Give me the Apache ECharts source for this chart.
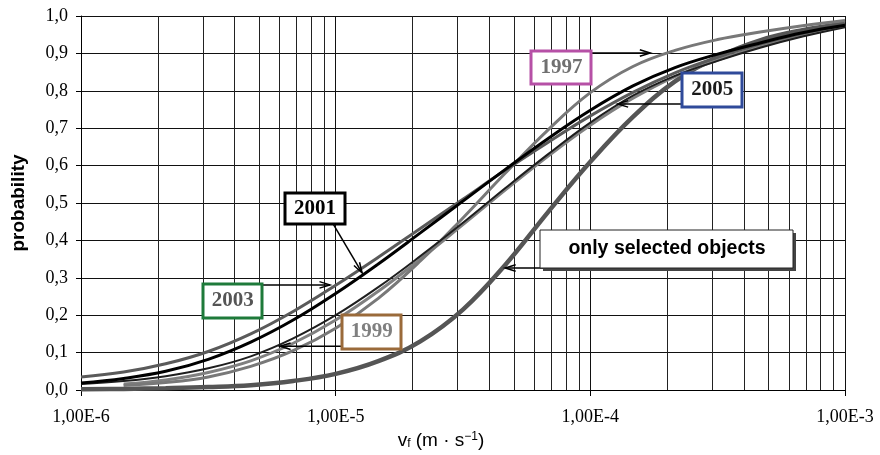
<!DOCTYPE html>
<html>
<head>
<meta charset="utf-8">
<script src="https://cdn.jsdelivr.net/npm/echarts@6/dist/echarts.min.js"></script>
<style>
  html, body { margin: 0; padding: 0; background: #fff; }
  #chart { width: 880px; height: 455px; }
</style>
</head>
<body>
<div id="chart"></div>
<script>
// velocity values (m/s) the curves are sampled at, six per decade
const vf = [1e-6, 1.47e-6, 2.15e-6, 3.16e-6, 4.64e-6, 6.81e-6,
            1e-5, 1.47e-5, 2.15e-5, 3.16e-5, 4.64e-5, 6.81e-5,
            1e-4, 1.47e-4, 2.15e-4, 3.16e-4, 4.64e-4, 6.81e-4, 1e-3];

// cumulative probability
const p1997 = [null, 0.012, 0.02, 0.035, 0.063, 0.105, 0.165, 0.245, 0.345, 0.46, 0.58, 0.695, 0.795, 0.865, 0.908, 0.937, 0.957, 0.974, 0.988];
const p1999 = [null, 0.016, 0.027, 0.047, 0.078, 0.125, 0.187, 0.264, 0.35, 0.442, 0.535, 0.625, 0.708, 0.78, 0.838, 0.882, 0.918, 0.948, 0.975];
const p2001 = [0.019, 0.031, 0.05, 0.082, 0.128, 0.187, 0.258, 0.337, 0.42, 0.505, 0.59, 0.672, 0.748, 0.813, 0.862, 0.898, 0.928, 0.955, 0.975];
const p2003 = [0.035, 0.048, 0.07, 0.103, 0.15, 0.21, 0.28, 0.355, 0.432, 0.51, 0.588, 0.662, 0.733, 0.796, 0.848, 0.89, 0.925, 0.953, 0.975];
const p2005 = [0.016, 0.024, 0.037, 0.058, 0.09, 0.138, 0.20, 0.275, 0.358, 0.447, 0.54, 0.63, 0.715, 0.787, 0.84, 0.88, 0.915, 0.945, 0.97];
const pSelected = [0.002, 0.003, 0.005, 0.008, 0.013, 0.024, 0.043, 0.077, 0.13, 0.215, 0.335, 0.475, 0.61, 0.73, 0.825, 0.89, 0.935, 0.962, 0.98];

// decades on the x axis and the 2..9 subdivisions
const decades = [1e-6, 1e-5, 1e-4];
const subSteps = [2, 3, 4, 5, 6, 7, 8, 9];
const minorLines = [];
decades.forEach(d => subSteps.forEach(k => minorLines.push(k * d)));

// callout boxes: centre and arrow in data coordinates
const notes = [
  { text: '1997', c: [7.7e-5, 0.862], w: 60, h: 33, border: '#b650a6', color: '#707070', from: [1.0e-4, 0.901], to: [1.72e-4, 0.901] },
  { text: '2005', c: [3.01e-4, 0.802], w: 60, h: 34, border: '#2f4a9a', color: '#1a1a1a', from: [2.3e-4, 0.765], to: [1.28e-4, 0.765] },
  { text: '2001', c: [8.3e-6, 0.485], w: 60, h: 31, border: '#000', color: '#000', from: [9.77e-6, 0.444], to: [1.27e-5, 0.313] },
  { text: '2003', c: [3.94e-6, 0.238], w: 59, h: 34, border: '#1e7a3a', color: '#555', from: [5.14e-6, 0.281], to: [9.5e-6, 0.281] },
  { text: '1999', c: [1.385e-5, 0.155], w: 59, h: 34, border: '#9a6a3a', color: '#808080', from: [1.06e-5, 0.117], to: [6.05e-6, 0.117] },
  { text: 'only selected objects', c: [2.0e-4, 0.377], w: 253, h: 38, border: '#222', color: '#000', sans: true, from: [8.2e-5, 0.326], to: [4.63e-5, 0.326] }
];

const pairs = arr => vf.map((v, i) => [v, arr[i]]);

function curve(name, arr, color, width) {
  return {
    name: name, type: 'line', smooth: 0.4, showSymbol: false, z: 3,
    data: pairs(arr),
    lineStyle: { color: color, width: width }
  };
}

const chart = echarts.init(document.getElementById('chart'));

const option = {
  animation: false,
  grid: { left: 81, right: 35, top: 16, bottom: 65 },
  xAxis: {
    type: 'log',
    logBase: 10,
    min: 1e-6,
    max: 1e-3,
    name: '{t|v}{sub|f}{t| (m · s}{sup|−1}{t|)}',
    nameLocation: 'middle',
    nameGap: 37,
    nameTextStyle: {
      padding: [0, 44, 0, 0],
      rich: {
        t: { fontFamily: 'Liberation Sans', fontSize: 19, color: '#000' },
        sub: { fontFamily: 'Liberation Sans', fontSize: 12, color: '#000', verticalAlign: 'bottom' },
        sup: { fontFamily: 'Liberation Sans', fontSize: 12, color: '#000', verticalAlign: 'top' }
      }
    },
    axisLine: { lineStyle: { color: '#000', width: 1 } },
    axisTick: { show: true, length: 6, lineStyle: { color: '#000' } },
    axisLabel: {
      fontFamily: 'Liberation Serif',
      fontSize: 18,
      color: '#000',
      margin: 18,
      formatter: v => '1,00E' + Math.round(Math.log10(v))
    },
    splitLine: { show: true, lineStyle: { color: '#111', width: 1 } }
  },
  yAxis: {
    type: 'value',
    min: 0,
    max: 1,
    interval: 0.1,
    name: 'probability',
    nameLocation: 'middle',
    nameRotate: 90,
    nameGap: 53,
    nameTextStyle: { fontFamily: 'Liberation Sans', fontWeight: 'bold', fontSize: 19, color: '#000' },
    axisLine: { show: true, lineStyle: { color: '#000', width: 1 } },
    axisTick: { show: true, length: 5, lineStyle: { color: '#000' } },
    axisLabel: {
      fontFamily: 'Liberation Serif',
      fontSize: 18,
      color: '#000',
      margin: 13,
      formatter: v => v.toFixed(1).replace('.', ',')
    },
    splitLine: { show: true, lineStyle: { color: '#111', width: 1 } }
  },
  series: [
    {
      // minor log grid lines at 2..9 of each decade
      name: 'grid', type: 'custom', silent: true, z: 1,
      data: minorLines.map(v => [v, 0]),
      encode: { x: 0, y: 1 },
      renderItem: (params, api) => {
        const top = api.coord([api.value(0), 1]);
        const bot = api.coord([api.value(0), 0]);
        const x = Math.round(top[0]) + 0.5;
        return {
          type: 'line',
          shape: { x1: x, y1: top[1], x2: x, y2: bot[1] },
          style: { stroke: '#222', lineWidth: 1 }
        };
      }
    },
    curve('selected', pSelected, '#555', 4.5),
    curve('1999', p1999, '#808080', 3),
    curve('1997', p1997, '#787878', 3),
    curve('2005', p2005, '#1e1e1e', 2),
    curve('2003', p2003, '#5a5a5a', 3),
    curve('2001', p2001, '#000', 3)
  ]
};

chart.setOption(option);

function drawNotes() {
  const els = [];
  notes.forEach(n => {
    const c = chart.convertToPixel({ gridIndex: 0 }, n.c);
    const a = chart.convertToPixel({ gridIndex: 0 }, n.from);
    const b = chart.convertToPixel({ gridIndex: 0 }, n.to);
    const x = Math.round(c[0] - n.w / 2), y = Math.round(c[1] - n.h / 2);
    // arrow shaft and open head
    const ang = Math.atan2(b[1] - a[1], b[0] - a[0]);
    const hl = 11, hw = 0.3;
    els.push({
      type: 'line', z: 10,
      shape: { x1: a[0], y1: a[1], x2: b[0], y2: b[1] },
      style: { stroke: '#000', lineWidth: 1.5 }
    });
    els.push({
      type: 'polyline', z: 10,
      shape: { points: [
        [b[0] - hl * Math.cos(ang - hw), b[1] - hl * Math.sin(ang - hw)],
        [b[0], b[1]],
        [b[0] - hl * Math.cos(ang + hw), b[1] - hl * Math.sin(ang + hw)]
      ] },
      style: { stroke: '#000', fill: null, lineWidth: 1.5 }
    });
    if (n.sans) {
      els.push({ type: 'rect', z: 11, shape: { x: x + 3, y: y + 3, width: n.w, height: n.h }, style: { fill: '#444' } });
    }
    els.push({
      type: 'rect', z: 12,
      shape: { x: x, y: y, width: n.w, height: n.h },
      style: { fill: '#fff', stroke: n.border, lineWidth: n.sans ? 1 : 3 }
    });
    els.push({
      type: 'text', z: 13,
      x: c[0], y: c[1],
      style: {
        text: n.text,
        fill: n.color,
        fontFamily: n.sans ? 'Liberation Sans' : 'Liberation Serif',
        fontWeight: 'bold',
        fontSize: n.sans ? 19.5 : 21,
        align: 'center',
        verticalAlign: 'middle'
      }
    });
  });
  chart.setOption({ graphic: els });
}

drawNotes();
</script>
</body>
</html>
